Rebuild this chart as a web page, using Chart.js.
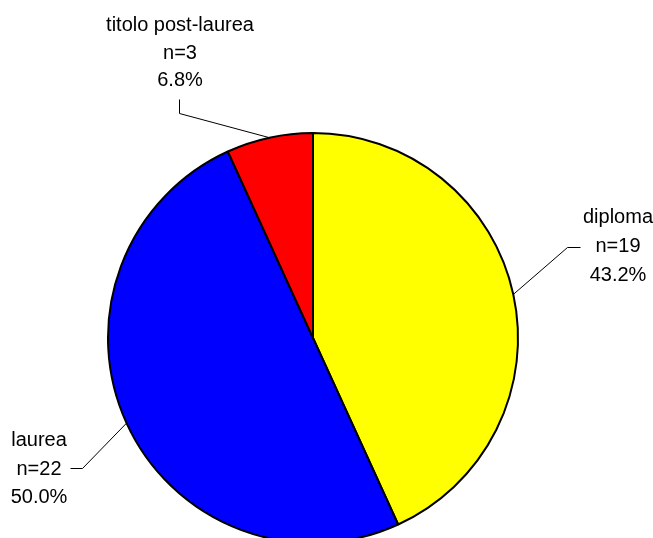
<!DOCTYPE html>
<html>
<head>
<meta charset="utf-8">
<script src="https://cdn.jsdelivr.net/npm/chart.js@4"></script>
<style>
  html, body { margin: 0; padding: 0; background: #fff; overflow: hidden; }
  #wrap { width: 653px; height: 538px; }
</style>
</head>
<body>
<div id="wrap"><canvas id="pieChart" width="653" height="538"></canvas></div>
<script>
// dati
const categorie = ['diploma', 'laurea', 'titolo post-laurea'];
const conteggi = [19, 22, 3];
const percentuali = ['43.2%', '50.0%', '6.8%'];
const colori = ['#ffff00', '#0000ff', '#ff0000'];

// posizione delle etichette e delle linee guida (testo centrato)
const etichette = [
    { x: 618, y: 223, gap: 29, line: [[580, 247], [567, 247]] },
    { x: 39, y: 446, gap: 28.5, line: [[70, 468], [82, 468]] },
    { x: 180, y: 31, gap: 27.5, line: [[179, 99], [179, 113]] }
];

const labelPlugin = {
    id: 'labelPlugin',
    afterDatasetsDraw(chart) {
        const ctx = chart.ctx;
        const meta = chart.getDatasetMeta(0);
        ctx.save();
        meta.data.forEach((arc, i) => {
            const p = arc.getProps(['x', 'y', 'startAngle', 'endAngle', 'outerRadius'], true);
            const mid = (p.startAngle + p.endAngle) / 2;
            const ex = p.x + Math.cos(mid) * p.outerRadius;
            const ey = p.y + Math.sin(mid) * p.outerRadius;
            const e = etichette[i];

            ctx.strokeStyle = '#000';
            ctx.lineWidth = 1;
            ctx.beginPath();
            ctx.moveTo(e.line[0][0] + 0.5, e.line[0][1] + 0.5);
            ctx.lineTo(e.line[1][0] + 0.5, e.line[1][1] + 0.5);
            ctx.lineTo(ex, ey);
            ctx.stroke();

            ctx.fillStyle = '#000';
            ctx.font = '20px "Liberation Sans", Arial, sans-serif';
            ctx.textAlign = 'center';
            ctx.textBaseline = 'alphabetic';
            const righe = [categorie[i], 'n=' + conteggi[i], percentuali[i]];
            righe.forEach((t, k) => {
                ctx.fillText(t, e.x, e.y + k * e.gap);
            });
        });
        ctx.restore();
    }
};

const ctx = document.getElementById('pieChart').getContext('2d');
new Chart(ctx, {
    type: 'pie',
    data: {
        labels: categorie,
        datasets: [{
            data: conteggi,
            backgroundColor: colori,
            borderColor: '#000',
            borderWidth: 2,
            clip: false
        }]
    },
    options: {
        responsive: false,
        animation: false,
        radius: 205,
        layout: { padding: { top: 138, bottom: 0, left: 0, right: 27 } },
        plugins: {
            legend: { display: false },
            tooltip: { enabled: false }
        }
    },
    plugins: [labelPlugin]
});
</script>
</body>
</html>
